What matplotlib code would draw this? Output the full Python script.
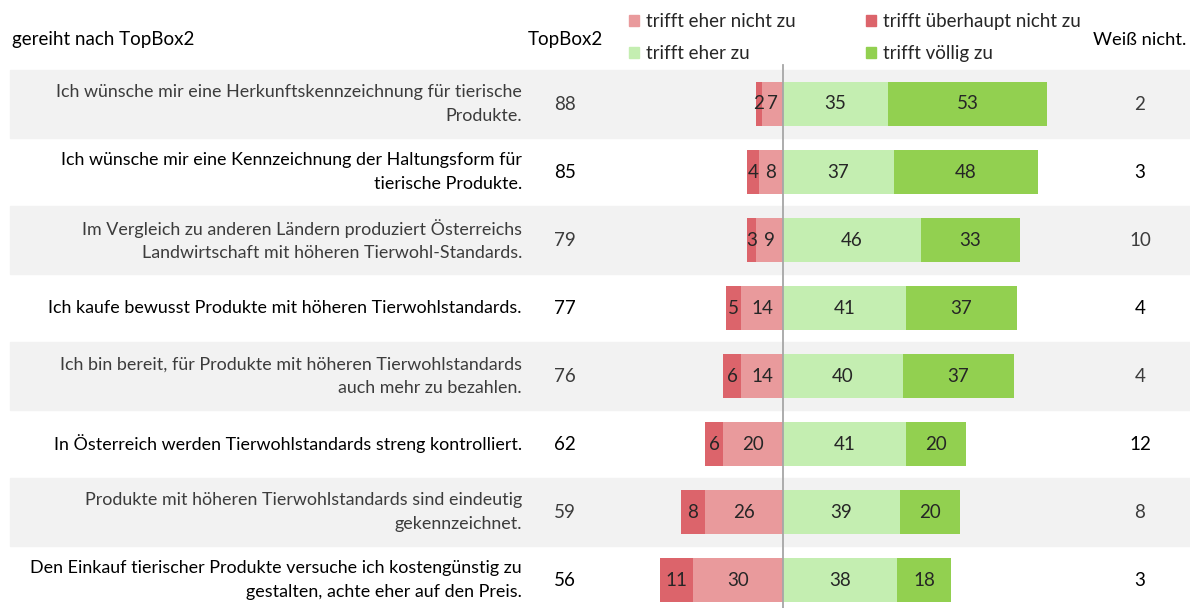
import matplotlib.pyplot as plt
from matplotlib.patches import Patch

# data
statements = [
    "Ich wünsche mir eine Herkunftskennzeichnung für tierische\nProdukte.",
    "Ich wünsche mir eine Kennzeichnung der Haltungsform für\ntierische Produkte.",
    "Im Vergleich zu anderen Ländern produziert Österreichs\nLandwirtschaft mit höheren Tierwohl-Standards.",
    "Ich kaufe bewusst Produkte mit höheren Tierwohlstandards.",
    "Ich bin bereit, für Produkte mit höheren Tierwohlstandards\nauch mehr zu bezahlen.",
    "In Österreich werden Tierwohlstandards streng kontrolliert.",
    "Produkte mit höheren Tierwohlstandards sind eindeutig\ngekennzeichnet.",
    "Den Einkauf tierischer Produkte versuche ich kostengünstig zu\ngestalten, achte eher auf den Preis.",
]
topbox2 = [88, 85, 79, 77, 76, 62, 59, 56]
ueberhaupt_nicht = [2, 4, 3, 5, 6, 6, 8, 11]
eher_nicht = [7, 8, 9, 14, 14, 20, 26, 30]
eher_zu = [35, 37, 46, 41, 40, 41, 39, 38]
voellig = [53, 48, 33, 37, 37, 20, 20, 18]
weiss_nicht = [2, 3, 10, 4, 4, 12, 8, 3]

c_ueber = '#dc646b'
c_eher_nicht = '#e99a9c'
c_eher_zu = '#c4eeb1'
c_voellig = '#92d050'

plt.rcParams['font.family'] = ['Lato', 'DejaVu Sans']

fig = plt.figure(figsize=(11.9, 6.08), dpi=100)
ax = fig.add_axes([0, 0, 1, 1])
ax.set_xlim(-783 / 3, (1190 - 783) / 3)
ax.set_ylim((608 - 104) / 68, -104 / 68)
ax.axis('off')

n = len(statements)
rows = list(range(n))

# alternating background bands
for i in rows:
    if i % 2 == 0:
        ax.axhspan(i - 0.5, i + 0.5, xmin=10 / 1190, xmax=1, color='#f2f2f2', zorder=0)

h = 0.66
neg_inner = [-v for v in eher_nicht]
b1 = ax.barh(rows, neg_inner, height=h, color=c_eher_nicht, zorder=2)
b2 = ax.barh(rows, [-v for v in ueberhaupt_nicht], left=neg_inner, height=h, color=c_ueber, zorder=2)
b3 = ax.barh(rows, eher_zu, height=h, color=c_eher_zu, zorder=2)
b4 = ax.barh(rows, voellig, left=eher_zu, height=h, color=c_voellig, zorder=2)

for bars, vals in [(b1, eher_nicht), (b2, ueberhaupt_nicht), (b3, eher_zu), (b4, voellig)]:
    ax.bar_label(bars, labels=[str(v) for v in vals], label_type='center',
                 fontsize=13.5, color='#262626', zorder=4)

ax.axvline(0, ymin=0, ymax=(608 - 65) / 608, color='#a6a6a6', lw=1.3, zorder=3)

for i in rows:
    col = '#3c3c3c' if i % 2 == 0 else '#000000'
    ax.text(-87, i, statements[i], ha='right', va='center', fontsize=12.9,
            color=col, linespacing=1.55)
    ax.text(-72.7, i, str(topbox2[i]), ha='center', va='center', fontsize=13.5, color=col)
    ax.text(119, i, str(weiss_nicht[i]), ha='center', va='center', fontsize=13.5, color=col)

hy = -64 / 68
ax.text(-257, hy, "gereiht nach TopBox2", ha='left', va='center', fontsize=13.5, color='#000000')
ax.text(-72.7, hy, "TopBox2", ha='center', va='center', fontsize=13.5, color='#000000')
ax.text(119, hy, "Weiß nicht.", ha='center', va='center', fontsize=13.2, color='#000000')

handles = [Patch(color=c_eher_nicht, label='trifft eher nicht zu'),
           Patch(color=c_eher_zu, label='trifft eher zu'),
           Patch(color=c_ueber, label='trifft überhaupt nicht zu'),
           Patch(color=c_voellig, label='trifft völlig zu')]
leg = fig.legend(handles=handles, ncol=2, loc='upper left', bbox_to_anchor=(616 / 1190, 1.0),
                 frameon=False, fontsize=13.5, handlelength=0.55, handleheight=0.55,
                 handletextpad=0.35, columnspacing=3.75, labelspacing=0.8,
                 borderaxespad=0.3)
for t in leg.get_texts():
    t.set_color('#262626')

fig.savefig('out.png', dpi=100)
